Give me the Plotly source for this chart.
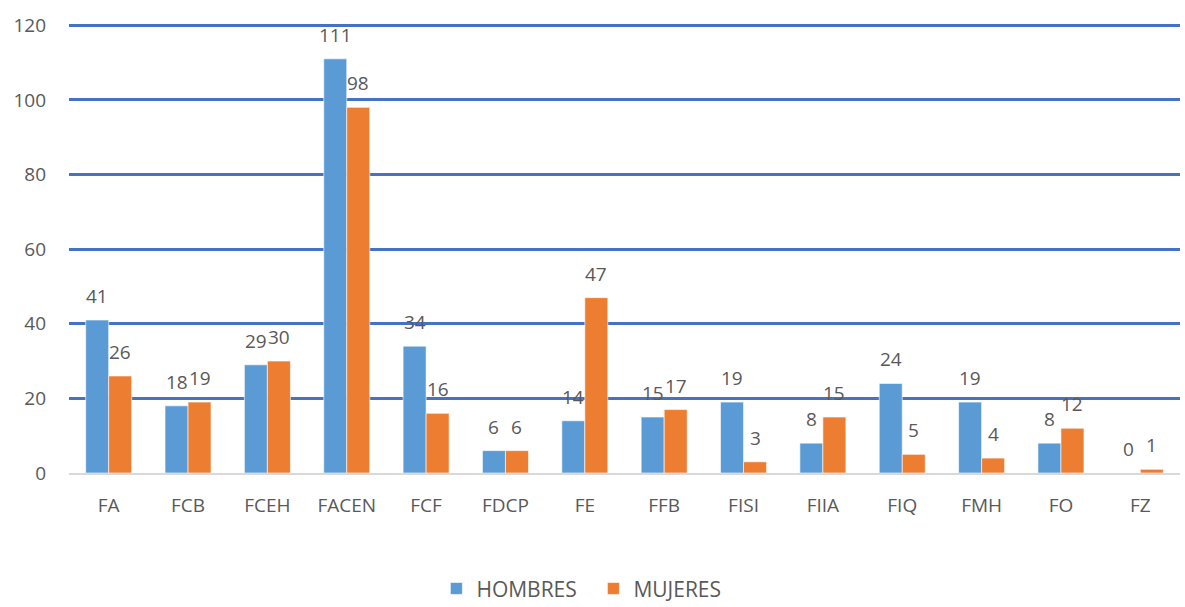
import plotly.graph_objects as go

facultades = ["FA", "FCB", "FCEH", "FACEN", "FCF", "FDCP", "FE", "FFB",
              "FISI", "FIIA", "FIQ", "FMH", "FO", "FZ"]
hombres = [41, 18, 29, 111, 34, 6, 14, 15, 19, 8, 24, 19, 8, 0]
mujeres = [26, 19, 30, 98, 16, 6, 47, 17, 3, 15, 5, 4, 12, 1]
y_ticks = [0, 20, 40, 60, 80, 100, 120]

FONT = "Open Sans"
TXT = "#595959"
W, H = 1185, 607
MARGIN = dict(l=69, r=5, t=23, b=134)
BARGAP = 0.42

series = [("HOMBRES", hombres, "#5B9BD5"), ("MUJERES", mujeres, "#ED7D31")]

fig = go.Figure()
for name, vals, color in series:
    fig.add_trace(go.Bar(
        x=facultades, y=vals, name=name,
        marker=dict(color=color, line=dict(color="rgba(255,255,255,0.6)", width=1)),
        cliponaxis=False,
    ))

# value labels centred above each bar of a group
slot = (W - MARGIN["l"] - MARGIN["r"]) / len(facultades)
bar_w = slot * (1 - BARGAP) / len(series)
annotations = []
for k, (name, vals, color) in enumerate(series):
    dx = (k - (len(series) - 1) / 2) * bar_w
    for cat, v in zip(facultades, vals):
        annotations.append(dict(
            x=cat, y=v, xref="x", yref="y", text=str(v), showarrow=False,
            xshift=dx, yshift=24, xanchor="center", yanchor="middle",
            font=dict(family=FONT, size=19, color=TXT),
        ))

fig.update_layout(
    width=W, height=H,
    margin=MARGIN,
    plot_bgcolor="white", paper_bgcolor="white",
    barmode="group", bargap=BARGAP, bargroupgap=0,
    font=dict(family=FONT, size=19, color=TXT),
    showlegend=True,
    legend=dict(orientation="h", x=0.472, xanchor="center",
                yref="container", y=0.03, yanchor="middle",
                font=dict(family=FONT, size=21, color=TXT),
                entrywidth=112, entrywidthmode="pixels",
                traceorder="normal"),
    annotations=annotations,
)
fig.update_xaxes(showgrid=False, showline=True, linecolor="#D9D9D9", linewidth=2,
                 ticks="", ticklabelstandoff=14,
                 tickfont=dict(family=FONT, size=19, color=TXT))
fig.update_yaxes(range=[0, 120.6], tickvals=y_ticks, showgrid=True,
                 gridcolor="#4472C4", gridwidth=3, zeroline=False, showline=False,
                 ticks="", ticklabelstandoff=22,
                 tickfont=dict(family=FONT, size=19, color=TXT))

fig.write_html("out.html")
